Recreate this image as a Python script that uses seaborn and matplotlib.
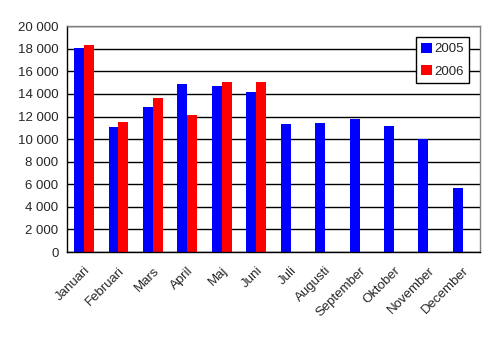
import numpy as np
import pandas as pd
import matplotlib
matplotlib.use("Agg")
import matplotlib.pyplot as plt
import seaborn as sns
from matplotlib.ticker import FuncFormatter, FixedLocator

# Data
months = ["Januari", "Februari", "Mars", "April", "Maj", "Juni", "Juli",
          "Augusti", "September", "Oktober", "November", "December"]
values_2005 = [18050, 11060, 12830, 14870, 14690, 14160, 11330,
               11420, 11770, 11150, 9970, 5660]
values_2006 = [18320, 11500, 13630, 12120, 15040, 15040, np.nan,
               np.nan, np.nan, np.nan, np.nan, np.nan]
years = ["2005", "2006"]

df = pd.DataFrame({
    "month": months * 2,
    "value": values_2005 + values_2006,
    "year": [years[0]] * len(months) + [years[1]] * len(months),
})

sns.set_style("white")
plt.rcParams["font.family"] = ["Liberation Sans", "DejaVu Sans"]

fig = plt.figure(figsize=(4.95, 3.38), dpi=100)
ax = fig.add_axes([0.135, 0.2544, 0.835, 0.668])

sns.barplot(data=df, x="month", y="value", hue="year", order=months,
            hue_order=years, palette=["#0000ff", "#ff0000"], width=0.58,
            gap=0, saturation=1, linewidth=0, edgecolor="none",
            ax=ax, legend=True)

ax.set_ylim(0, 20000)
ax.set_xlim(-0.5, len(months) - 0.5)
ax.set_yticks(np.arange(0, 20001, 2000))
ax.yaxis.set_major_formatter(FuncFormatter(lambda v, p: f"{int(v):,}".replace(",", " ")))
ax.yaxis.grid(True, color="black", linewidth=1)
ax.set_axisbelow(True)
ax.set_xlabel("")
ax.set_ylabel("")

# tick marks between categories, labels at centres
ax.xaxis.set_minor_locator(FixedLocator(np.arange(-0.5, len(months), 1)))
ax.tick_params(axis="x", which="major", length=0, pad=9, labelsize=9.5)
ax.tick_params(axis="x", which="minor", length=4, width=1, color="black", direction="out")
ax.tick_params(axis="y", length=4, width=1, color="black", direction="out", labelsize=9.5, pad=2)
plt.setp(ax.get_xticklabels(), rotation=45, ha="right", rotation_mode="anchor")

for side in ["left", "bottom"]:
    ax.spines[side].set_color("black")
    ax.spines[side].set_linewidth(1)
for side in ["top", "right"]:
    ax.spines[side].set_color("#808080")
    ax.spines[side].set_linewidth(1)

leg = ax.legend(loc="upper right", bbox_to_anchor=(0.973, 0.951), frameon=True,
                fancybox=False, edgecolor="black", fontsize=9.5, handlelength=0.8,
                handleheight=0.8, handletextpad=0.2, borderpad=0.4,
                labelspacing=0.75, borderaxespad=0, framealpha=1)
leg.get_frame().set_linewidth(1)

fig.savefig("out.png", dpi=100)
